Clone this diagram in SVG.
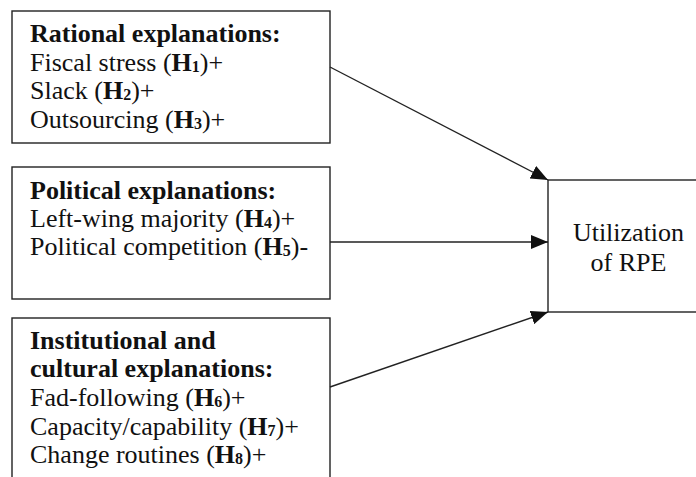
<svg xmlns="http://www.w3.org/2000/svg" width="696" height="477" viewBox="0 0 696 477" font-family="'Liberation Serif', 'Times New Roman', 'DejaVu Serif', serif">
  <style>
    .box { fill: #ffffff; stroke: #222; stroke-width: 1.4; }
    text { font-family: 'Liberation Serif', 'Times New Roman', 'DejaVu Serif', serif; font-size: 26px; fill: #111; }
    .b { font-weight: bold; }
    .s { font-size: 16px; font-weight: bold; }
    .edge { stroke: #222; stroke-width: 1.4; fill: none; marker-end: url(#head); }
  </style>
  <defs>
    <marker id="head" markerUnits="userSpaceOnUse" markerWidth="18" markerHeight="14" refX="17" refY="7" orient="auto">
      <path d="M0,0 L17,7 L0,14 Z" fill="#111"/>
    </marker>
  </defs>
  <rect width="696" height="477" fill="#ffffff"/>

  <g id="rational">
    <rect class="box" x="12" y="11" width="318" height="132"/>
    <text x="30" y="42"><tspan class="b">Rational explanations:</tspan></text>
    <text x="30" y="71">Fiscal stress (<tspan class="b">H</tspan><tspan class="s" dy="1">1</tspan><tspan dy="-1">)+</tspan></text>
    <text x="30" y="99">Slack (<tspan class="b">H</tspan><tspan class="s" dy="1">2</tspan><tspan dy="-1">)+</tspan></text>
    <text x="30" y="128">Outsourcing (<tspan class="b">H</tspan><tspan class="s" dy="1">3</tspan><tspan dy="-1">)+</tspan></text>
  </g>

  <g id="political">
    <rect class="box" x="12" y="167" width="318" height="132"/>
    <text x="30" y="199"><tspan class="b">Political explanations:</tspan></text>
    <text x="30" y="227">Left-wing majority (<tspan class="b">H</tspan><tspan class="s" dy="1">4</tspan><tspan dy="-1">)+</tspan></text>
    <text x="30" y="255">Political competition (<tspan class="b">H</tspan><tspan class="s" dy="1">5</tspan><tspan dy="-1">)-</tspan></text>
  </g>

  <g id="institutional">
    <rect class="box" x="12" y="318" width="318" height="180"/>
    <text x="30" y="349"><tspan class="b">Institutional and</tspan></text>
    <text x="30" y="377"><tspan class="b">cultural explanations:</tspan></text>
    <text x="30" y="406">Fad-following (<tspan class="b">H</tspan><tspan class="s" dy="1">6</tspan><tspan dy="-1">)+</tspan></text>
    <text x="30" y="435">Capacity/capability (<tspan class="b">H</tspan><tspan class="s" dy="1">7</tspan><tspan dy="-1">)+</tspan></text>
    <text x="30" y="463">Change routines (<tspan class="b">H</tspan><tspan class="s" dy="1">8</tspan><tspan dy="-1">)+</tspan></text>
  </g>

  <g id="utilization">
    <rect class="box" x="548" y="180" width="170" height="132"/>
    <text x="628.5" y="241" text-anchor="middle">Utilization</text>
    <text x="628.5" y="271" text-anchor="middle">of RPE</text>
  </g>

  <g id="connectors">
    <line class="edge" x1="330" y1="67" x2="548" y2="180"/>
    <line class="edge" x1="330" y1="242" x2="548" y2="242"/>
    <line class="edge" x1="330" y1="387" x2="548" y2="312"/>
  </g>
</svg>
